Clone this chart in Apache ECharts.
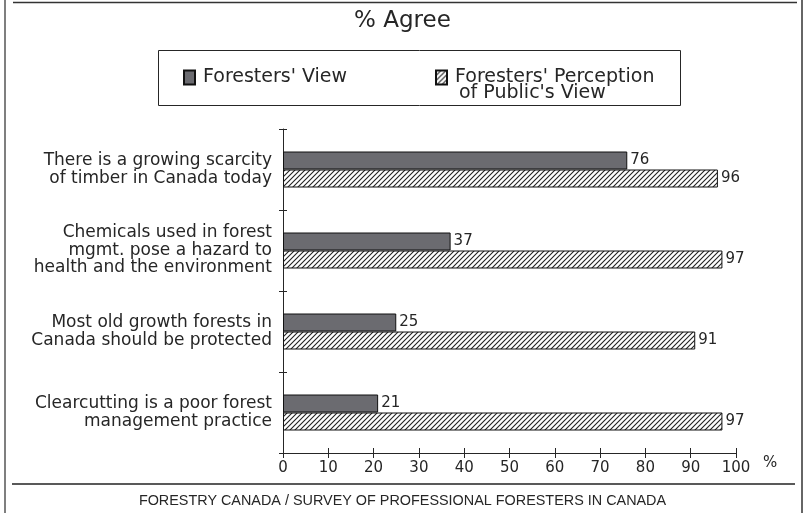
<!DOCTYPE html>
<html>
<head>
<meta charset="utf-8">
<script src="https://cdn.jsdelivr.net/npm/echarts@6/dist/echarts.min.js"></script>
<style>
  html, body { margin: 0; padding: 0; background: #fff; }
  #chart { width: 805px; height: 513px; }
</style>
</head>
<body>
<div id="chart"></div>
<script>
// Survey statements (top to bottom)
var categories = [
  'There is a growing scarcity\nof timber in Canada today',
  'Chemicals used in forest\nmgmt. pose a hazard to\nhealth and the environment',
  'Most old growth forests in\nCanada should be protected',
  'Clearcutting is a poor forest\nmanagement practice'
];
// % agreeing
var forestersView = [76, 37, 25, 21];
var perceivedPublicView = [96, 97, 91, 97];
var seriesNames = ["Foresters' View", "Foresters' Perception\nof Public's View"];
var xTicks = { min: 0, max: 100, interval: 10 };

var FONT = 'DejaVu Sans';
var INK = '#262626';

// diagonal hatch pattern for the second series
function makeHatch() {
  var s = 5;
  var c = document.createElement('canvas');
  c.width = s; c.height = s;
  var g = c.getContext('2d');
  g.fillStyle = '#fff';
  g.fillRect(0, 0, s, s);
  g.strokeStyle = '#222';
  g.lineWidth = 1.1;
  g.beginPath();
  g.moveTo(-1, s + 1); g.lineTo(s + 1, -1);
  g.moveTo(-1, 1); g.lineTo(1, -1);
  g.moveTo(s - 1, s + 1); g.lineTo(s + 1, s - 1);
  g.stroke();
  return c;
}
var hatch = { image: makeHatch(), repeat: 'repeat' };

var chart = echarts.init(document.getElementById('chart'), null, { renderer: 'canvas' });

var valueLabel = {
  show: true, position: 'right', distance: 3,
  fontFamily: FONT, fontSize: 15, color: INK
};
var legendText = { fontFamily: FONT, fontSize: 19, color: INK, padding: [0, 0, 0, 3] };
var nameLines = seriesNames[1].split('\n');

var option = {
  backgroundColor: '#fff',
  animation: false,
  title: [
    { text: '% Agree', left: 'center', top: 5,
      textStyle: { fontFamily: FONT, fontSize: 23, fontWeight: 'normal', color: INK } },
    { text: 'FORESTRY CANADA / SURVEY OF PROFESSIONAL FORESTERS IN CANADA', left: 'center', top: 489,
      textStyle: { fontFamily: 'Liberation Sans', fontSize: 14.4, fontWeight: 'normal', color: INK } }
  ],
  legend: [
    { data: [seriesNames[0]], left: 183, top: 68, padding: 0, icon: 'rect',
      itemWidth: 11, itemHeight: 14, itemGap: 10, textStyle: legendText },
    { data: [seriesNames[1]], left: 435, top: 68, padding: 0, icon: 'rect',
      itemWidth: 11, itemHeight: 14, itemGap: 10, textStyle: legendText,
      formatter: function (n) { return n.split('\n')[0]; } }
  ],
  grid: { left: 283, right: 69, top: 129, bottom: 60, containLabel: false },
  xAxis: [
    { type: 'value', min: xTicks.min, max: xTicks.max, interval: xTicks.interval, position: 'bottom',
      name: '%', nameLocation: 'end', nameGap: 27,
      nameTextStyle: { fontFamily: FONT, fontSize: 15, color: INK, verticalAlign: 'top', padding: [3, 0, 0, 0] },
      axisLine: { show: true, onZero: false, lineStyle: { color: INK, width: 1 } },
      axisTick: { show: true, inside: false, length: 5, lineStyle: { color: INK } },
      axisLabel: { fontFamily: FONT, fontSize: 15, color: INK, margin: 8 },
      splitLine: { show: false } },
    // companion axis: upper half of the crossing tick marks
    { type: 'value', min: xTicks.min, max: xTicks.max, interval: xTicks.interval, position: 'bottom',
      axisLine: { show: false, onZero: false },
      axisTick: { show: true, inside: true, length: 5, lineStyle: { color: INK } },
      axisLabel: { show: false }, splitLine: { show: false } }
  ],
  yAxis: [
    { type: 'category', data: categories, inverse: true, position: 'left',
      axisLine: { show: true, lineStyle: { color: INK, width: 1 } },
      axisTick: { show: true, inside: false, length: 4, lineStyle: { color: INK } },
      axisLabel: { fontFamily: FONT, fontSize: 17, lineHeight: 17.5, color: INK, margin: 11, align: 'right' } },
    // companion axis: right half of the crossing tick marks
    { type: 'category', data: categories, inverse: true, position: 'left',
      axisLine: { show: false, onZero: false },
      axisTick: { show: true, inside: true, length: 4, lineStyle: { color: INK } },
      axisLabel: { show: false } }
  ],
  series: [
    { name: seriesNames[0], type: 'bar', data: forestersView, barWidth: 18, barGap: '0%',
      itemStyle: { color: '#6b6b70', borderColor: '#111', borderWidth: 1 },
      label: valueLabel },
    { name: seriesNames[1], type: 'bar', data: perceivedPublicView, barWidth: 18, barGap: '0%',
      itemStyle: { color: hatch, borderColor: '#111', borderWidth: 1 },
      label: valueLabel },
    // empty series binding the tick-only companion axes
    { type: 'bar', data: [], xAxisIndex: 1, yAxisIndex: 1, silent: true }
  ],
  graphic: [
    // legend frame
    { type: 'rect', shape: { x: 158.5, y: 50.5, width: 522, height: 55 }, silent: true,
      style: { fill: 'none', stroke: INK, lineWidth: 1 } },
    // continuation line of the second legend entry
    { type: 'text', left: 459, top: 84, silent: true,
      style: { text: nameLines[1], fontFamily: FONT, fontSize: 19, fill: INK } },
    // page frame
    { type: 'line', shape: { x1: 5, y1: 0, x2: 5, y2: 513 }, silent: true,
      style: { stroke: '#555', lineWidth: 1.5 } },
    { type: 'line', shape: { x1: 802, y1: 0, x2: 802, y2: 513 }, silent: true,
      style: { stroke: '#333', lineWidth: 1.5 } },
    { type: 'line', shape: { x1: 13, y1: 2.5, x2: 797, y2: 2.5 }, silent: true,
      style: { stroke: '#333', lineWidth: 1.5 } },
    { type: 'line', shape: { x1: 12, y1: 484, x2: 795, y2: 484 }, silent: true,
      style: { stroke: '#222', lineWidth: 1.5 } }
  ]
};

chart.setOption(option);
</script>
</body>
</html>
